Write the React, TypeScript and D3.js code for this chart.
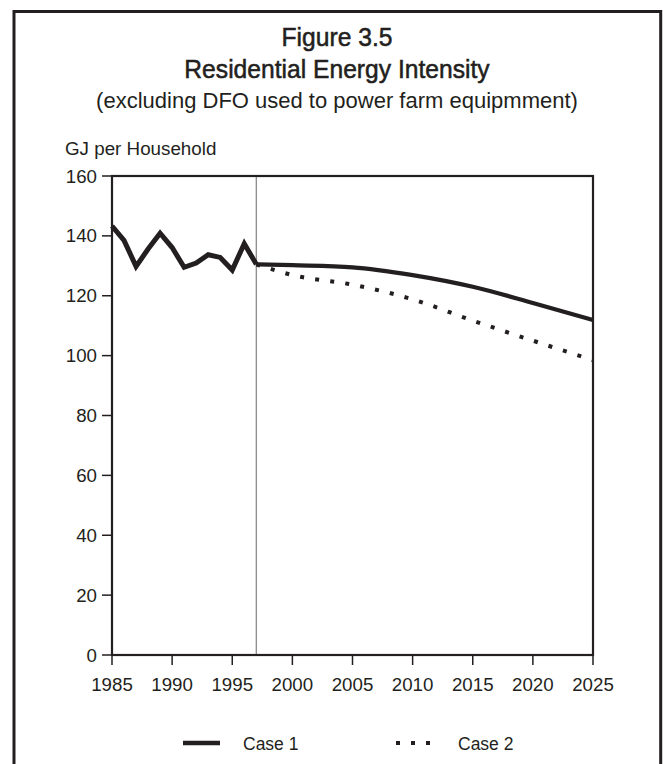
import React from "react";
import * as d3 from "d3";

const histYears = [1985, 1986, 1987, 1988, 1989, 1990, 1991, 1992, 1993, 1994, 1995, 1996, 1997];
const histValues = [143.3, 138.5, 129.8, 135.6, 140.9, 136.1, 129.5, 130.9, 133.7, 132.8, 128.6, 137.4, 130.5];

const projYears = [1997, 2000, 2005, 2010, 2015, 2020, 2025];
const case1Values = [130.5, 130.2, 129.5, 126.9, 123.0, 117.6, 111.9];
const case2Values = [130.5, 126.9, 123.7, 118.8, 111.7, 105.0, 98.5];

const yTicks = [0, 20, 40, 60, 80, 100, 120, 140, 160];
const xTicks = [1985, 1990, 1995, 2000, 2005, 2010, 2015, 2020, 2025];
const dividerYear = 1997;

const titleLines = ["Figure 3.5", "Residential Energy Intensity"];
const subtitle = "(excluding DFO used to power farm equipmment)";
const yAxisTitle = "GJ per Household";
const legendLabels = ["Case 1", "Case 2"];

const W = 663;
const H = 764;
const INK = "#231f20";
const FONT = "'Liberation Sans', Arial, sans-serif";
const TITLE_CX = 337;
const TITLE_SX = 0.93;

export default function App() {
  const x = d3.scaleLinear().domain([1985, 2025]).range([112, 593]);
  const y = d3.scaleLinear().domain([0, 160]).range([655, 176]);

  const histLine = d3
    .line<number>()
    .x((_, i) => x(histYears[i]))
    .y((d) => y(d))
    .curve(d3.curveLinear);
  const projLine = d3
    .line<number>()
    .x((_, i) => x(projYears[i]))
    .y((d) => y(d))
    .curve(d3.curveMonotoneX);

  return (
    <svg
      width={W}
      height={H}
      viewBox={`0 0 ${W} ${H}`}
      style={{ position: "absolute", left: 0, top: 0, display: "block", background: "#fff" }}
      fontFamily={FONT}
    >
      <rect x={0} y={0} width={W} height={H} fill="#fff" />
      {/* outer frame (open at bottom) */}
      <path d={`M14,${H + 10} V11.5 H660.7 V${H + 10}`} fill="none" stroke={INK} strokeWidth={3} />

      {/* titles */}
      <g transform={`translate(${TITLE_CX},0) scale(${TITLE_SX},1)`}>
        <text x={0} y={46} textAnchor="middle" fontSize={26.5} fill={INK} stroke={INK} strokeWidth={0.55}>
          {titleLines[0]}
        </text>
        <text x={0} y={78} textAnchor="middle" fontSize={26.5} fill={INK} stroke={INK} strokeWidth={0.55}>
          {titleLines[1]}
        </text>
      </g>
      <text x={TITLE_CX} y={108} textAnchor="middle" fontSize={22} fill={INK}>
        {subtitle}
      </text>
      <text x={65} y={155} fontSize={18.8} fill={INK}>
        {yAxisTitle}
      </text>

      {/* divider */}
      <line x1={x(dividerYear)} x2={x(dividerYear)} y1={y(160)} y2={y(0)} stroke="#8a8a8a" strokeWidth={1.3} />

      {/* y ticks */}
      {yTicks.map((t) => (
        <g key={"y" + t}>
          <line x1={102} x2={112} y1={y(t)} y2={y(t)} stroke={INK} strokeWidth={1.5} />
          <text x={97} y={y(t)} dy="0.35em" textAnchor="end" fontSize={18.7} fill={INK}>
            {t}
          </text>
        </g>
      ))}
      {/* x ticks */}
      {xTicks.map((t) => (
        <g key={"x" + t}>
          <line x1={x(t)} x2={x(t)} y1={655} y2={665} stroke={INK} strokeWidth={1.5} />
          <text x={x(t)} y={691} textAnchor="middle" fontSize={18.7} fill={INK}>
            {t}
          </text>
        </g>
      ))}

      {/* plot frame */}
      <rect x={112} y={176} width={481} height={479} fill="none" stroke={INK} strokeWidth={2.2} />

      {/* series */}
      <path d={projLine(case2Values) || ""} fill="none" stroke={INK} strokeWidth={4} strokeDasharray="4 11.2" />
      <path d={projLine(case1Values) || ""} fill="none" stroke={INK} strokeWidth={4.2} strokeLinejoin="round" />
      <path d={histLine(histValues) || ""} fill="none" stroke={INK} strokeWidth={5} strokeLinejoin="miter" strokeMiterlimit={3} />

      {/* legend */}
      <line x1={183} x2={220} y1={743} y2={743} stroke={INK} strokeWidth={4.5} />
      <text x={243} y={750} fontSize={17.5} fill={INK}>
        {legendLabels[0]}
      </text>
      <line x1={396} x2={432} y1={743} y2={743} stroke={INK} strokeWidth={4} strokeDasharray="4 11" />
      <text x={458} y={750} fontSize={17.5} fill={INK}>
        {legendLabels[1]}
      </text>
    </svg>
  );
}
